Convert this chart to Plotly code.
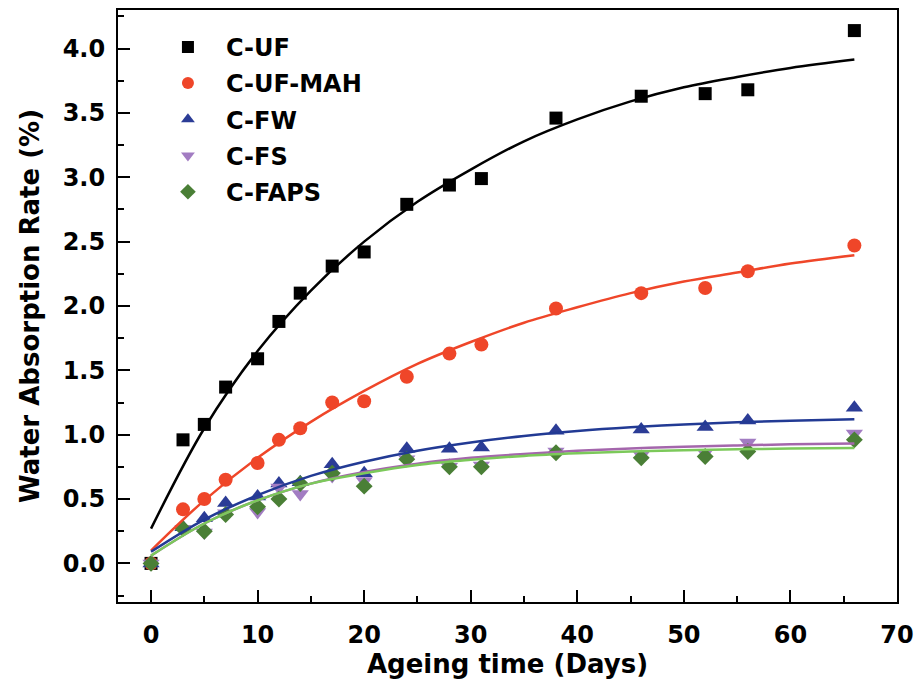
import plotly.graph_objects as go

# ---- data ----
days = [0, 3, 5, 7, 10, 12, 14, 17, 20, 24, 28, 31, 38, 46, 52, 56, 66]
c_uf = [0.0, 0.96, 1.08, 1.37, 1.59, 1.88, 2.10, 2.31, 2.42, 2.79, 2.94, 2.99, 3.46, 3.63, 3.65, 3.68, 4.14]
c_uf_mah = [0.0, 0.42, 0.50, 0.65, 0.78, 0.96, 1.05, 1.25, 1.26, 1.45, 1.63, 1.70, 1.98, 2.10, 2.14, 2.27, 2.47]
c_fw = [0.0, 0.28, 0.35, 0.47, 0.52, 0.62, 0.63, 0.77, 0.70, 0.89, 0.89, 0.90, 1.03, 1.04, 1.06, 1.11, 1.21]
c_fs = [0.0, 0.27, 0.24, 0.39, 0.40, 0.59, 0.54, 0.68, 0.64, 0.81, 0.75, 0.76, 0.87, 0.84, 0.86, 0.94, 1.01]
c_faps = [0.0, 0.27, 0.25, 0.38, 0.44, 0.50, 0.62, 0.70, 0.60, 0.81, 0.75, 0.75, 0.86, 0.82, 0.83, 0.87, 0.96]

# fitted curves
fit_x = [0, 5, 10, 15, 20, 25, 30, 35, 40, 45, 50, 55, 60, 66]
fit_uf = [0.27, 1.05, 1.65, 2.12, 2.50, 2.81, 3.06, 3.28, 3.45, 3.59, 3.70, 3.78, 3.85, 3.915]
fit_uf_mah = [0.10, 0.49, 0.82, 1.10, 1.34, 1.55, 1.72, 1.87, 1.99, 2.10, 2.19, 2.26, 2.33, 2.395]
fit_fw = [0.09, 0.34, 0.53, 0.68, 0.79, 0.876, 0.94, 0.99, 1.028, 1.057, 1.079, 1.096, 1.109, 1.12]
fit_fs = [0.06, 0.31, 0.49, 0.62, 0.71, 0.775, 0.82, 0.85, 0.875, 0.893, 0.907, 0.917, 0.925, 0.932]
fit_faps = [0.06, 0.31, 0.49, 0.62, 0.70, 0.765, 0.805, 0.835, 0.855, 0.87, 0.88, 0.887, 0.892, 0.897]

names = ["C-UF", "C-UF-MAH", "C-FW", "C-FS", "C-FAPS"]
x_ticks = [0, 10, 20, 30, 40, 50, 60, 70]
y_ticks = [0.0, 0.5, 1.0, 1.5, 2.0, 2.5, 3.0, 3.5, 4.0]

series = [c_uf, c_uf_mah, c_fw, c_fs, c_faps]
fits = [fit_uf, fit_uf_mah, fit_fw, fit_fs, fit_faps]
marker_colors = ["#000000", "#EF4629", "#2B3C96", "#A27CC2", "#4A7F36"]
line_colors = ["#000000", "#EF4629", "#223A94", "#A466AC", "#7CC95A"]
symbols = ["square", "circle", "triangle-up", "triangle-down", "diamond"]
sizes = [13, 14, 15, 15, 13]

FONT = "DejaVu Sans"

fig = go.Figure()
for i, name in enumerate(names):
    fig.add_trace(go.Scatter(
        x=days, y=series[i], mode="markers", name=name,
        legendgroup=name,
        marker=dict(symbol=symbols[i], size=sizes[i], color=marker_colors[i],
                    line=dict(width=0)),
    ))
for i, name in enumerate(names):
    fig.add_trace(go.Scatter(
        x=fit_x, y=fits[i], mode="lines", showlegend=False,
        line=dict(color=line_colors[i], width=2.5, shape="spline", smoothing=1.0),
        hoverinfo="skip",
    ))

axis_common = dict(
    showline=True, linecolor="black", linewidth=2, mirror=True,
    ticks="inside", ticklen=12, tickwidth=1.5, tickcolor="black",
    showgrid=False, zeroline=False,
    tickfont=dict(family=FONT, size=24, color="black", weight="bold"),
)

fig.update_xaxes(
    range=[-3.1, 70], tickvals=x_ticks, ticktext=[str(v) for v in x_ticks],
    minor=dict(ticks="inside", ticklen=6, tickwidth=1.5, tickcolor="black", dtick=5, tick0=0),
    title=dict(text="Ageing time (Days)", standoff=2,
               font=dict(family=FONT, size=26, color="black", weight="bold")),
    ticklabelstandoff=10,
    **axis_common,
)
fig.update_yaxes(
    range=[-0.3, 4.3], tickvals=y_ticks, ticktext=[f"{v:.1f}" for v in y_ticks],
    minor=dict(ticks="inside", ticklen=6, tickwidth=1.5, tickcolor="black", dtick=0.25, tick0=0),
    title=dict(text="Water Absorption Rate (%)", standoff=16,
               font=dict(family=FONT, size=26, color="black", weight="bold")),
    ticklabelstandoff=6,
    **axis_common,
)

fig.update_layout(
    width=917, height=683,
    margin=dict(l=118, r=20, t=10, b=81, autoexpand=False),
    paper_bgcolor="white", plot_bgcolor="white",
    showlegend=True,
    legend=dict(
        x=0.041, y=0.975, xanchor="left", yanchor="top",
        bgcolor="rgba(0,0,0,0)", borderwidth=0,
        tracegroupgap=2, itemwidth=66, itemsizing="constant",
        font=dict(family=FONT, size=24, color="black", weight="bold"),
    ),
)

fig.write_html("out.html", config={"displayModeBar": False},
               post_script="document.body.style.margin='0';document.body.style.padding='0';")
